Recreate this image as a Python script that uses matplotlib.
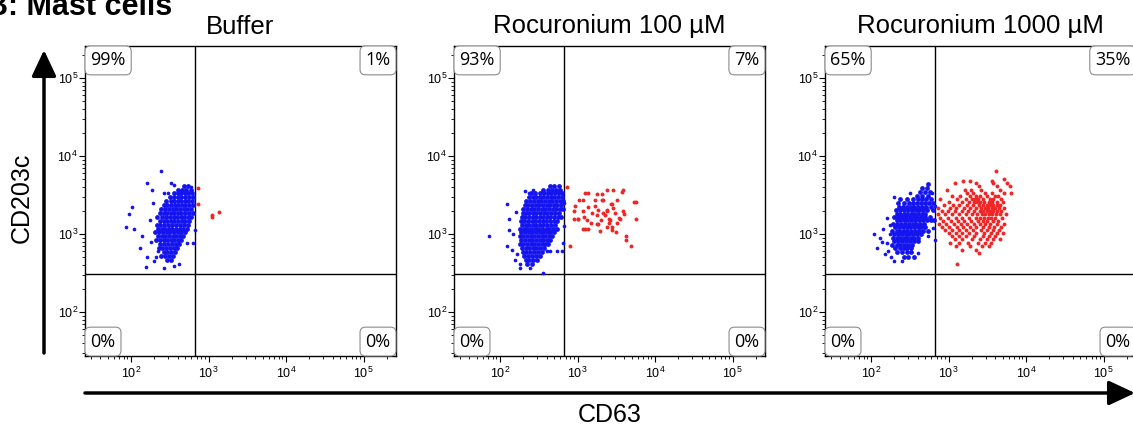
import matplotlib
matplotlib.use("Agg")
import matplotlib.pyplot as plt
import numpy as np
from matplotlib.patches import FancyArrowPatch
from matplotlib.ticker import LogLocator, NullFormatter, FuncFormatter

plt.rcParams['font.family'] = ['Liberation Sans', 'DejaVu Sans']
plt.rcParams['mathtext.default'] = 'regular'

# all event coordinates are log10(intensity): (CD63, CD203c)
titles = ["Buffer", "Rocuronium 100 µM", "Rocuronium 1000 µM"]
quad_labels = [["99%", "1%", "0%", "0%"],
               ["93%", "7%", "0%", "0%"],
               ["65%", "35%", "0%", "0%"]]
gate_cd63 = 2.83
gate_cd203c = 2.49

# Buffer - dense core as rows (log CD203c, [log CD63 ...])
buffer_blue_rows = [
    (3.62, [2.68, 2.74]),
    (3.57, [2.60, 2.66, 2.71, 2.77]),
    (3.52, [2.55, 2.60, 2.65, 2.70, 2.74, 2.79]),
    (3.47, [2.50, 2.56, 2.61, 2.65, 2.70, 2.75, 2.80]),
    (3.42, [2.45, 2.51, 2.56, 2.60, 2.65, 2.70, 2.74, 2.79]),
    (3.37, [2.42, 2.47, 2.52, 2.57, 2.61, 2.66, 2.70, 2.75, 2.80]),
    (3.32, [2.39, 2.44, 2.49, 2.54, 2.58, 2.63, 2.68, 2.72, 2.77]),
    (3.27, [2.37, 2.42, 2.47, 2.51, 2.56, 2.61, 2.65, 2.70, 2.75, 2.80]),
    (3.22, [2.34, 2.40, 2.45, 2.50, 2.55, 2.59, 2.64, 2.68, 2.73, 2.78]),
    (3.17, [2.37, 2.42, 2.47, 2.52, 2.56, 2.61, 2.66, 2.70, 2.75]),
    (3.12, [2.33, 2.38, 2.43, 2.48, 2.53, 2.58, 2.63, 2.68, 2.73]),
    (3.07, [2.35, 2.40, 2.44, 2.49, 2.53, 2.58, 2.63, 2.67, 2.72]),
    (3.02, [2.31, 2.36, 2.41, 2.46, 2.50, 2.55, 2.60, 2.64, 2.69]),
    (2.97, [2.35, 2.40, 2.44, 2.49, 2.54, 2.58, 2.63, 2.67]),
    (2.92, [2.32, 2.37, 2.42, 2.47, 2.51, 2.56, 2.61, 2.65]),
    (2.87, [2.38, 2.43, 2.48, 2.53, 2.58, 2.62]),
    (2.82, [2.36, 2.40, 2.45, 2.50, 2.55, 2.59]),
    (2.77, [2.42, 2.47, 2.52, 2.57]),
    (2.72, [2.39, 2.44, 2.49, 2.54]),
    (2.67, [2.46, 2.52]),
]
buffer_blue_extra = [
    (2.39, 3.81), (2.20, 3.66), (2.52, 3.66), (2.55, 3.63), (2.27, 3.56),
    (2.42, 3.53), (2.48, 3.53), (2.01, 3.34), (1.98, 3.26), (1.94, 3.09),
    (2.04, 3.06), (2.11, 2.82), (2.14, 2.97), (2.20, 2.71), (2.19, 2.58),
    (2.42, 2.56), (2.55, 2.59), (2.72, 2.88), (2.80, 2.88), (2.32, 2.71),
    (2.28, 3.40), (2.62, 2.62), (2.24, 3.18), (2.30, 2.65), (2.78, 3.60),
    (2.82, 3.05), (2.26, 2.90), (2.35, 2.78),
]
buffer_red = [(2.86, 3.59), (2.87, 3.38), (3.05, 3.24), (3.05, 3.22), (3.14, 3.28)]

# Rocuronium 100 uM
roc100_blue_rows = [
    (3.62, [2.64, 2.70, 2.76]),
    (3.57, [2.56, 2.62, 2.67, 2.72, 2.78]),
    (3.52, [2.40, 2.45, 2.52, 2.57, 2.62, 2.66, 2.71, 2.76, 2.80]),
    (3.47, [2.37, 2.42, 2.47, 2.52, 2.56, 2.61, 2.66, 2.70, 2.75, 2.80]),
    (3.42, [2.34, 2.39, 2.44, 2.49, 2.53, 2.58, 2.63, 2.67, 2.72, 2.77, 2.81]),
    (3.37, [2.32, 2.36, 2.41, 2.46, 2.50, 2.55, 2.60, 2.64, 2.69, 2.74, 2.79]),
    (3.32, [2.30, 2.35, 2.40, 2.44, 2.49, 2.54, 2.58, 2.63, 2.68, 2.72, 2.77, 2.81]),
    (3.27, [2.29, 2.33, 2.38, 2.43, 2.47, 2.52, 2.57, 2.61, 2.66, 2.71, 2.76]),
    (3.22, [2.28, 2.32, 2.37, 2.42, 2.46, 2.51, 2.56, 2.60, 2.65, 2.70, 2.75, 2.79]),
    (3.17, [2.27, 2.31, 2.36, 2.41, 2.45, 2.50, 2.55, 2.59, 2.64, 2.69, 2.74]),
    (3.12, [2.28, 2.33, 2.38, 2.42, 2.47, 2.52, 2.56, 2.61, 2.66, 2.71]),
    (3.07, [2.26, 2.31, 2.35, 2.40, 2.45, 2.49, 2.54, 2.59, 2.63, 2.68, 2.73]),
    (3.02, [2.27, 2.32, 2.37, 2.41, 2.46, 2.51, 2.55, 2.60, 2.65, 2.69]),
    (2.97, [2.26, 2.30, 2.35, 2.40, 2.44, 2.49, 2.54, 2.58, 2.63, 2.67]),
    (2.92, [2.27, 2.32, 2.37, 2.41, 2.46, 2.51, 2.55, 2.60, 2.65]),
    (2.87, [2.26, 2.30, 2.35, 2.40, 2.44, 2.49, 2.54, 2.58, 2.62]),
    (2.82, [2.28, 2.33, 2.38, 2.42, 2.47, 2.52, 2.57]),
    (2.77, [2.29, 2.34, 2.39, 2.44, 2.49, 2.54]),
    (2.72, [2.31, 2.36, 2.41, 2.46, 2.51]),
    (2.67, [2.33, 2.38, 2.43, 2.48]),
    (2.62, [2.35, 2.41]),
]
roc100_blue_extra = [
    (1.86, 2.97), (2.09, 3.38), (2.12, 3.19), (2.11, 3.05), (2.09, 2.85),
    (2.15, 2.79), (2.19, 2.67), (2.26, 2.62), (2.26, 2.56), (2.39, 2.56),
    (2.56, 2.50), (2.60, 2.78), (2.65, 2.78), (2.73, 2.78), (2.80, 2.78),
    (2.81, 2.88), (2.32, 3.55), (2.37, 3.52), (2.43, 3.56), (2.17, 3.00),
    (2.21, 3.28), (2.22, 2.74), (2.82, 3.10), (2.82, 3.40),
]
roc100_red = [
    (2.87, 3.60), (2.97, 3.36), (2.95, 3.29), (2.95, 3.19), (3.01, 3.19), (2.90, 2.85),
    (3.02, 3.44), (3.07, 3.44), (3.10, 3.53), (3.13, 3.53), (3.07, 3.29), (3.08, 3.22),
    (3.12, 3.18), (3.07, 3.07), (3.09, 3.06), (3.14, 3.06), (3.19, 3.27), (3.25, 3.51),
    (3.31, 3.51), (3.23, 3.44), (3.31, 3.44), (3.33, 3.44), (3.22, 3.36), (3.18, 3.14),
    (3.25, 3.13), (3.27, 3.13), (3.29, 3.04), (3.33, 3.27), (3.35, 3.24), (3.30, 3.18),
    (3.38, 3.31), (3.38, 3.29), (3.40, 3.19), (3.42, 3.18), (3.38, 3.09), (3.44, 3.09),
    (3.38, 3.56), (3.46, 3.56), (3.43, 3.39), (3.45, 3.38), (3.41, 3.14), (3.45, 3.05),
    (3.50, 3.03), (3.53, 3.20), (3.55, 3.19), (3.59, 3.29), (3.60, 3.26), (3.57, 3.54),
    (3.59, 3.56), (3.51, 3.44), (3.48, 3.27), (3.46, 3.33), (3.63, 2.97), (3.63, 2.92),
    (3.69, 2.85), (3.73, 3.41), (3.75, 3.41), (3.76, 3.19), (3.51, 3.14), (3.27, 3.31),
    (3.25, 3.24), (3.14, 3.35), (3.00, 3.19),
]

# Rocuronium 1000 uM
roc1000_blue_rows = [
    (3.64, [2.74]),
    (3.59, [2.66, 2.72]),
    (3.54, [2.63, 2.70, 2.76]),
    (3.49, [2.59, 2.66, 2.73]),
    (3.45, [2.37, 2.46, 2.54, 2.60, 2.66, 2.71, 2.77]),
    (3.40, [2.35, 2.43, 2.49, 2.54, 2.59, 2.64, 2.69, 2.75, 2.80]),
    (3.35, [2.36, 2.41, 2.46, 2.51, 2.56, 2.61, 2.66, 2.71, 2.78]),
    (3.31, [2.32, 2.38, 2.43, 2.48, 2.53, 2.58, 2.62, 2.67, 2.72, 2.80]),
    (3.26, [2.33, 2.37, 2.42, 2.47, 2.52, 2.56, 2.61, 2.66, 2.70]),
    (3.22, [2.30, 2.35, 2.40, 2.45, 2.50, 2.55, 2.59, 2.64, 2.69, 2.76]),
    (3.18, [2.33, 2.38, 2.42, 2.47, 2.52, 2.57, 2.62, 2.67, 2.72, 2.77, 2.81]),
    (3.13, [2.28, 2.34, 2.39, 2.44, 2.49, 2.54, 2.58, 2.63, 2.68]),
    (3.09, [2.31, 2.36, 2.41, 2.46, 2.50, 2.55, 2.60, 2.65, 2.70]),
    (3.04, [2.27, 2.33, 2.38, 2.43, 2.47, 2.52, 2.57, 2.62, 2.67, 2.74]),
    (3.00, [2.30, 2.35, 2.40, 2.45, 2.49, 2.54, 2.59, 2.64]),
    (2.95, [2.28, 2.33, 2.38, 2.42, 2.47, 2.52, 2.56, 2.61]),
    (2.91, [2.30, 2.35, 2.40, 2.45, 2.50, 2.55, 2.60]),
    (2.86, [2.27, 2.33, 2.38, 2.43, 2.48, 2.53]),
    (2.82, [2.31, 2.37, 2.42, 2.47, 2.52]),
    (2.77, [2.34, 2.40, 2.46, 2.51]),
    (2.71, [2.42, 2.48, 2.55]),
]
roc1000_blue_extra = [
    (2.04, 3.00), (2.08, 2.82), (2.12, 2.95), (2.16, 3.06), (2.20, 2.88),
    (2.22, 2.78), (2.18, 2.74), (2.24, 3.12), (2.20, 3.20), (2.26, 2.70),
    (2.30, 2.66), (2.40, 2.66), (2.60, 2.75), (2.74, 2.97), (2.80, 3.08),
    (2.82, 2.92), (2.79, 3.52), (2.82, 3.36), (2.30, 3.48), (2.50, 3.52),
    (2.14, 2.90), (2.24, 3.00),
]
roc1000_red_rows = [
    (3.81, [3.61]),
    (3.71, [3.71]),
    (3.68, [3.19, 3.28, 3.56]),
    (3.65, [3.08, 3.35, 3.58, 3.75]),
    (3.62, [3.39, 3.62, 3.79]),
    (3.57, [2.98, 3.21, 3.29, 3.42, 3.66]),
    (3.53, [3.24, 3.32, 3.47, 3.56, 3.71, 3.80]),
    (3.49, [3.05, 3.15, 3.28, 3.36, 3.40, 3.49, 3.60, 3.64]),
    (3.45, [2.89, 3.11, 3.22, 3.30, 3.34, 3.38, 3.44, 3.53, 3.58, 3.68]),
    (3.41, [3.00, 3.18, 3.27, 3.33, 3.37, 3.41, 3.46, 3.52, 3.56, 3.62, 3.70]),
    (3.37, [2.94, 3.06, 3.14, 3.24, 3.31, 3.39, 3.44, 3.49, 3.54, 3.58, 3.63, 3.67]),
    (3.33, [2.87, 3.02, 3.10, 3.20, 3.28, 3.36, 3.42, 3.47, 3.51, 3.56, 3.60, 3.65, 3.72]),
    (3.29, [2.91, 2.99, 3.08, 3.17, 3.25, 3.33, 3.40, 3.45, 3.49, 3.53, 3.57, 3.62, 3.68]),
    (3.25, [2.86, 2.96, 3.05, 3.13, 3.22, 3.30, 3.37, 3.43, 3.47, 3.52, 3.56, 3.61, 3.66, 3.74]),
    (3.21, [2.89, 2.99, 3.09, 3.18, 3.27, 3.35, 3.41, 3.46, 3.51, 3.55, 3.60, 3.69]),
    (3.17, [2.93, 3.03, 3.12, 3.20, 3.29, 3.38, 3.44, 3.50, 3.57, 3.64]),
    (3.13, [2.88, 2.97, 3.07, 3.16, 3.24, 3.33, 3.40, 3.47, 3.54, 3.62, 3.72]),
    (3.09, [2.92, 3.01, 3.11, 3.19, 3.28, 3.36, 3.45, 3.52, 3.59, 3.68]),
    (3.05, [2.96, 3.05, 3.14, 3.22, 3.31, 3.42, 3.50, 3.57, 3.65]),
    (3.01, [3.00, 3.09, 3.18, 3.26, 3.35, 3.46, 3.55, 3.63, 3.70]),
    (2.97, [3.04, 3.13, 3.23, 3.33, 3.44, 3.52, 3.60]),
    (2.93, [3.08, 3.17, 3.30, 3.41, 3.49, 3.57, 3.66]),
    (2.89, [3.02, 3.13, 3.25, 3.38, 3.47, 3.55]),
    (2.85, [3.10, 3.28, 3.43, 3.52]),
    (2.80, [3.18, 3.35]),
    (2.75, [3.39]),
    (2.62, [3.11]),
]


def rows_to_xy(rows):
    xs, ys = [], []
    for ly, lxs in rows:
        xs += lxs
        ys += [ly] * len(lxs)
    return np.array(xs), np.array(ys)


def pairs_to_xy(pairs):
    a = np.array(pairs, dtype=float).reshape(-1, 2)
    return a[:, 0], a[:, 1]


blue_core = [rows_to_xy(buffer_blue_rows), rows_to_xy(roc100_blue_rows),
             rows_to_xy(roc1000_blue_rows)]
blue_extra = [pairs_to_xy(buffer_blue_extra), pairs_to_xy(roc100_blue_extra),
              pairs_to_xy(roc1000_blue_extra)]
red_sets = [pairs_to_xy(buffer_red), pairs_to_xy(roc100_red), rows_to_xy(roc1000_red_rows)]

W, H = 1133, 430
fig = plt.figure(figsize=(W / 100, H / 100), dpi=100)

lefts = [85, 454, 825]
ax_w, ax_top, ax_bot = 311, 46, 356
blue = '#1414f0'
red = '#f02626'

box = dict(boxstyle='round,pad=0.3', fc='white', ec='#8c8c8c', lw=0.8)
pad = 3.9

for i in range(3):
    ax = fig.add_axes([lefts[i] / W, 1 - ax_bot / H, ax_w / W, (ax_bot - ax_top) / H])
    ax.set_xscale('log')
    ax.set_yscale('log')
    ax.set_xlim(10 ** 1.406, 10 ** 5.419)
    ax.set_ylim(10 ** 1.436, 10 ** 5.41)

    cx, cy = blue_core[i]
    ex, ey = blue_extra[i]
    rx, ry = red_sets[i]
    ax.scatter(10 ** cx, 10 ** cy, s=12, c=blue, lw=0, zorder=3)
    ax.scatter(10 ** ex, 10 ** ey, s=7, c=blue, lw=0, zorder=3)
    ax.scatter(10 ** rx, 10 ** ry, s=8, c=red, lw=0, zorder=3)

    ax.axvline(10 ** gate_cd63, color='black', lw=1.0, zorder=2)
    ax.axhline(10 ** gate_cd203c, color='black', lw=1.0, zorder=2)

    for axis in (ax.xaxis, ax.yaxis):
        axis.set_major_locator(LogLocator(base=10, numticks=10))
        axis.set_minor_locator(LogLocator(base=10, subs=np.arange(2, 10), numticks=40))
        axis.set_minor_formatter(NullFormatter())
        axis.set_major_formatter(FuncFormatter(lambda v, p: '$10^{%d}$' % round(np.log10(v))))
    ax.set_xticks([1e2, 1e3, 1e4, 1e5])
    ax.set_yticks([1e2, 1e3, 1e4, 1e5])
    ax.tick_params(which='major', length=4, width=0.8, labelsize=9, direction='out')
    ax.tick_params(which='minor', length=2, width=0.6, direction='out')
    ax.tick_params(axis='y', which='major', pad=1)
    ax.tick_params(axis='x', which='major', pad=3)
    for s in ax.spines.values():
        s.set_linewidth(1.0)

    ax.set_title(titles[i], fontsize=18.5, pad=9)

    q = quad_labels[i]
    kw = dict(xycoords='axes fraction', textcoords='offset points', fontsize=13,
              family='Open Sans', bbox=box, zorder=6)
    ax.annotate(q[0], xy=(0, 1), xytext=(pad, -pad), ha='left', va='top', **kw)
    ax.annotate(q[1], xy=(1, 1), xytext=(-pad, -pad), ha='right', va='top', **kw)
    ax.annotate(q[2], xy=(0, 0), xytext=(pad, pad), ha='left', va='bottom', **kw)
    ax.annotate(q[3], xy=(1, 0), xytext=(-pad, pad), ha='right', va='bottom', **kw)

# axis arrows
fig.add_artist(FancyArrowPatch((44 / W, 1 - 353 / H), (44 / W, 1 - 50 / H),
                               transform=fig.transFigure,
                               arrowstyle='-|>,head_length=1.6,head_width=0.75',
                               mutation_scale=10, lw=2.5, color='black',
                               shrinkA=0, shrinkB=0))
fig.add_artist(FancyArrowPatch((85 / W, 1 - 393 / H), (1135 / W, 1 - 393 / H),
                               transform=fig.transFigure,
                               arrowstyle='-|>,head_length=1.6,head_width=0.75',
                               mutation_scale=10, lw=2.5, color='black',
                               shrinkA=0, shrinkB=0))

fig.text(610 / W, 1 - 415 / H, 'CD63', ha='center', va='center', fontsize=18)
fig.text(22 / W, 1 - 198 / H, 'CD203c', rotation=90, ha='center', va='center', fontsize=18)
fig.text(-13.7 / W, 1 - 15 / H, 'B: Mast cells', fontweight='bold', fontsize=22,
         ha='left', va='baseline')

fig.savefig('out.png', dpi=100)
